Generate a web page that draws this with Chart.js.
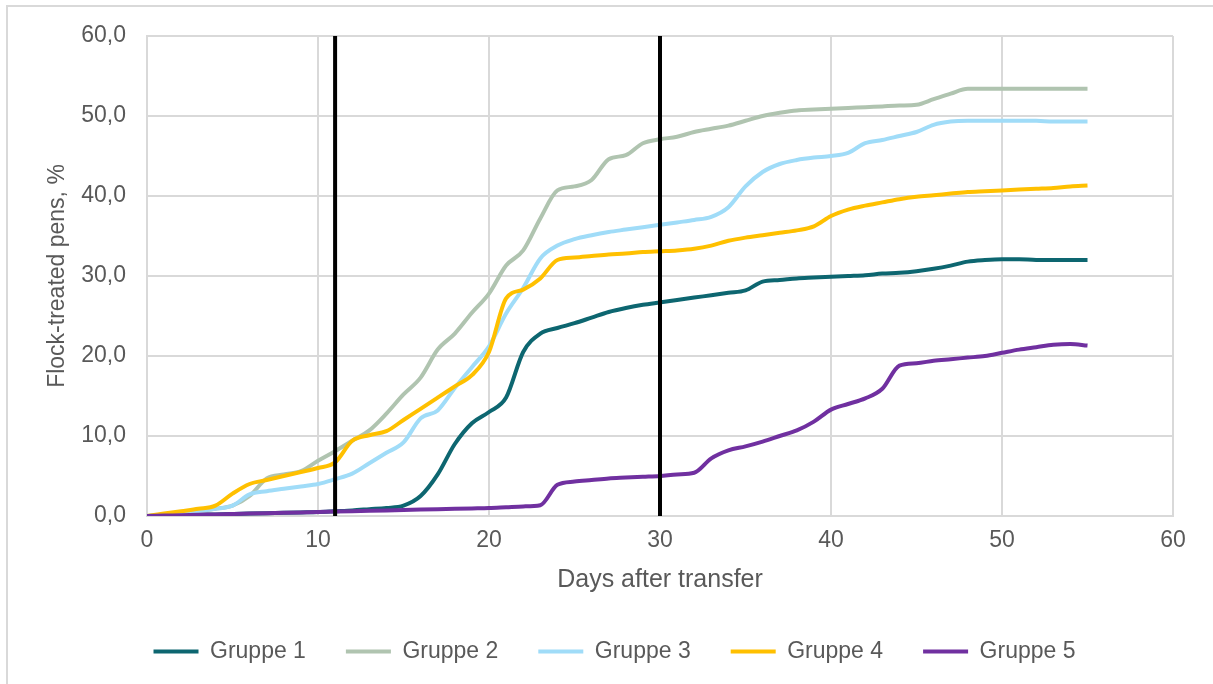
<!DOCTYPE html>
<html>
<head>
<meta charset="utf-8">
<script src="https://cdn.jsdelivr.net/npm/chart.js@4.4.1/dist/chart.umd.min.js"></script>
<style>
  html, body { margin: 0; padding: 0; background: #fff; }
  #wrap { position: relative; width: 1213px; height: 684px; overflow: hidden; }
  #frame { position: absolute; left: 6px; top: 5px; width: 1300px; height: 800px;
           border-top: 2px solid #d9d9d9; border-left: 2px solid #d9d9d9; pointer-events: none; }
  canvas { position: absolute; left: 0; top: 0; }
</style>
</head>
<body>
<div id="wrap">
  <canvas id="chart" width="1213" height="684"></canvas>
  <div id="frame"></div>
</div>
<script>
// days after transfer (x values shared by all groups)
const days = [0,1,2,3,4,5,6,7,8,9,10,11,12,13,14,15,16,17,18,19,20,21,22,23,24,25,26,27,
  28,29,30,31,32,33,34,35,36,37,38,39,40,41,42,43,44,45,46,47,48,49,50,51,52,53,54,55];

// % flock-treated pens per group
const gruppe1 = [0,0.05,0.1,0.15,0.2,0.25,0.3,0.35,0.4,0.45,0.5,0.6,0.7,0.85,1.0,1.3,2.5,5.2,9.0,11.6,
  13.0,14.8,20.5,22.8,23.5,24.1,24.8,25.5,26.0,26.4,26.7,27.0,27.3,27.6,27.9,28.2,29.3,29.5,29.7,29.8,
  29.9,30.0,30.1,30.3,30.4,30.6,30.9,31.3,31.8,32.0,32.1,32.1,32.0,32.0,32.0,32.0];
const gruppe2 = [0,0.2,0.4,0.6,0.9,1.3,2.5,4.7,5.2,5.6,6.9,8.1,9.4,10.7,12.8,15.2,17.3,20.8,22.8,25.4,
  27.8,31.3,33.2,37.2,40.7,41.2,42.0,44.6,45.1,46.6,47.1,47.4,48.0,48.4,48.8,49.4,50.0,50.4,50.7,50.8,
  50.9,51.0,51.1,51.2,51.3,51.4,52.1,52.8,53.4,53.4,53.4,53.4,53.4,53.4,53.4,53.4];
const gruppe3 = [0,0.2,0.4,0.6,0.9,1.3,2.7,3.1,3.4,3.7,4.0,4.6,5.3,6.6,7.9,9.2,12.2,13.2,16.0,18.6,
  21.2,25.3,28.5,32.2,33.8,34.6,35.1,35.5,35.8,36.1,36.4,36.7,37.0,37.4,38.6,41.2,43.0,44.0,44.5,44.8,
  45.0,45.4,46.6,47.0,47.5,48.0,48.9,49.3,49.4,49.4,49.4,49.4,49.4,49.3,49.3,49.3];
const gruppe4 = [0,0.3,0.6,0.9,1.3,2.8,4.0,4.5,5.0,5.5,6.0,6.7,9.4,10.1,10.6,12.0,13.4,14.8,16.2,17.6,
  20.5,27.2,28.3,29.7,32.0,32.3,32.5,32.7,32.8,33.0,33.1,33.2,33.4,33.8,34.4,34.8,35.1,35.4,35.7,36.2,
  37.5,38.3,38.8,39.2,39.6,39.9,40.1,40.3,40.5,40.6,40.7,40.8,40.9,41.0,41.2,41.3];
const gruppe5 = [0,0.05,0.1,0.15,0.2,0.25,0.3,0.35,0.4,0.45,0.5,0.55,0.6,0.65,0.7,0.75,0.8,0.85,0.9,0.95,
  1.0,1.1,1.2,1.35,3.9,4.3,4.5,4.7,4.8,4.9,5.0,5.2,5.4,7.2,8.2,8.7,9.3,10.0,10.7,11.8,
  13.3,14.0,14.7,15.9,18.8,19.1,19.4,19.6,19.8,20.0,20.4,20.8,21.1,21.4,21.5,21.3];

const groupNames = ['Gruppe 1', 'Gruppe 2', 'Gruppe 3', 'Gruppe 4', 'Gruppe 5'];
const groupColors = ['#0d6670', '#b0c4b0', '#a0dcf8', '#ffc000', '#7030a0'];
const markerDays = [11, 30]; // black vertical lines
const yMin = 0, yMax = 60;

const textColor = '#595959';
const font = 'Liberation Sans, Arial, sans-serif';

const groups = [gruppe1, gruppe2, gruppe3, gruppe4, gruppe5];

const datasets = groups.map((vals, g) => ({
  label: groupNames[g],
  data: days.map((d, i) => ({ x: d, y: vals[i] })),
  borderColor: groupColors[g],
  backgroundColor: groupColors[g],
  borderWidth: 4,
  pointRadius: 0,
  cubicInterpolationMode: 'monotone',
  order: groups.length - g  // later groups drawn on top
}));

markerDays.forEach(d => {
  datasets.push({
    label: 'marker',
    data: [{ x: d, y: yMin }, { x: d, y: yMax }],
    borderColor: '#000',
    backgroundColor: '#000',
    borderWidth: 4,
    pointRadius: 0,
    order: 0
  });
});

new Chart(document.getElementById('chart'), {
  type: 'line',
  data: { datasets: datasets },
  options: {
    responsive: false,
    animation: false,
    layout: { padding: { left: 56, right: 40, top: 36, bottom: 11 } },
    scales: {
      x: {
        type: 'linear',
        min: 0, max: 60,
        afterFit: s => { s.height = 84; },
        ticks: { stepSize: 10, color: textColor, font: { family: font, size: 23 }, padding: 11 },
        grid: { color: '#d9d9d9', lineWidth: 2, drawTicks: false },
        border: { color: '#d9d9d9', width: 2 },
        title: { display: true, text: 'Days after transfer', color: textColor,
                 font: { family: font, size: 25 }, padding: { top: 0, bottom: 5 } }
      },
      y: {
        min: yMin, max: yMax,
        afterFit: s => { s.width = 91; },
        ticks: { stepSize: 10, color: textColor, font: { family: font, size: 23 }, padding: 21,
                 callback: v => v.toFixed(1).replace('.', ',') },
        grid: { color: '#d9d9d9', lineWidth: 2, drawTicks: false },
        border: { color: '#d9d9d9', width: 2 },
        title: { display: true, text: 'Flock-treated pens, %', color: textColor,
                 font: { family: font, size: 23 }, padding: { top: -12, bottom: 0 } }
      }
    },
    plugins: {
      tooltip: { enabled: false },
      legend: {
        position: 'bottom',
        maxHeight: 77,
        labels: {
          color: textColor,
          font: { family: font, size: 23 },
          boxWidth: 45,
          boxHeight: 4,
          padding: 40,
          sort: (a, b) => a.datasetIndex - b.datasetIndex,
          filter: item => item.text !== 'marker',
          generateLabels: chart => Chart.defaults.plugins.legend.labels.generateLabels(chart)
            .map(item => Object.assign(item, { lineWidth: 0 }))
        }
      }
    }
  }
});
</script>
</body>
</html>
